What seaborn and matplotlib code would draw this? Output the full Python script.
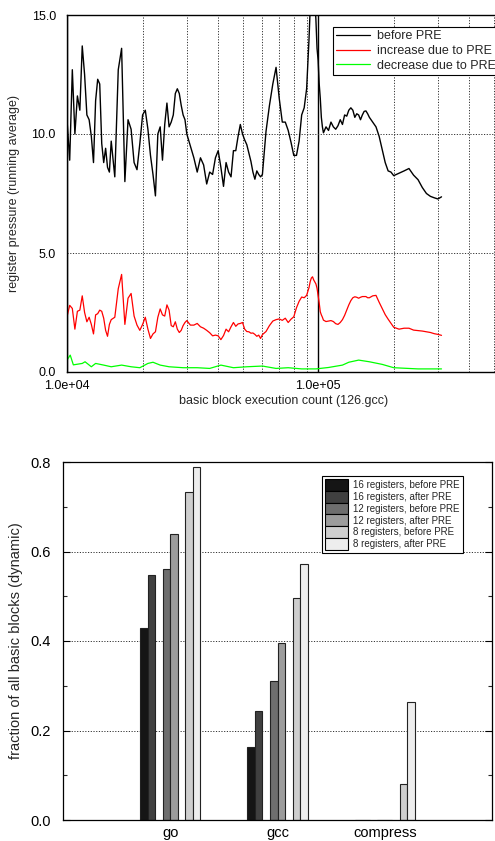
import numpy as np
import pandas as pd
import matplotlib
matplotlib.use("Agg")
import matplotlib.pyplot as plt
import matplotlib.ticker as mticker
from matplotlib.lines import Line2D
from matplotlib.patches import Patch
import seaborn as sns

# ---------------- dados do grafico de cima (126.gcc) ----------------
# contagem de execucao dos blocos basicos (eixo x, log)
contagem = [10000, 10250, 10500, 10750, 11000, 11250, 11500, 11750, 12000, 12250,
            12500, 12750, 13000, 13250, 13500, 13750, 14000, 14250, 14500, 14750,
            15000, 15500, 16000, 16500, 17000, 17500, 18000, 18500, 19000, 19500,
            20000, 20500, 21000, 21500, 22000, 22500, 23000, 23500, 24000, 24500,
            25000, 25500, 26000, 26500, 27000, 27500, 28000, 28500, 29000, 29500,
            30000, 31000, 32000, 33000, 34000, 35000, 36000, 37000, 38000, 39000,
            40000, 41000, 42000, 43000, 44000, 45000, 46000, 47000, 48000, 49000,
            50000, 51000, 52000, 53000, 54000, 55000, 56000, 57000, 58000, 59000,
            60000, 62000, 64000, 66000, 68000, 70000, 72000, 74000, 76000, 78000,
            80000, 82000, 84000, 86000, 88000, 90000, 92000, 93000, 94000, 95000,
            96000, 97000, 98000, 99000, 100000, 101000, 102000, 103000, 104000, 105000,
            107500, 110000, 112500, 115000, 117500, 120000, 122500, 125000, 127500, 130000,
            132500, 135000, 137500, 140000, 142500, 145000, 147500, 150000, 152500, 155000,
            157500, 160000, 165000, 170000, 175000, 180000, 185000, 190000, 195000, 200000,
            210000, 220000, 230000, 240000, 250000, 260000, 270000, 280000, 290000, 300000,
            310000]

antes_pre = [10.6, 8.9, 12.7, 10.0, 11.6, 11.0, 13.7, 12.5, 10.8, 10.6,
             9.9, 8.8, 11.4, 12.3, 12.1, 9.6, 8.8, 9.4, 8.6, 8.4,
             9.7, 8.2, 12.7, 13.6, 8.0, 10.6, 10.2, 8.8, 8.5, 9.6,
             10.8, 11.0, 10.2, 9.1, 8.3, 7.4, 10.0, 10.3, 8.9, 10.4,
             11.3, 10.3, 10.5, 10.8, 11.7, 11.9, 11.7, 11.2, 10.8, 10.6,
             10.0, 9.5, 9.0, 8.4, 9.0, 8.7, 7.9, 8.4, 8.3, 9.0,
             9.3, 8.6, 7.8, 8.8, 8.4, 8.2, 9.3, 9.3, 9.9, 10.4,
             10.0, 9.75, 9.55, 9.2, 8.85, 8.4, 8.1, 8.45, 8.3, 8.2,
             8.3, 10.1, 11.2, 12.1, 12.8, 11.5, 10.5, 10.5, 10.15, 9.65,
             9.1, 9.1, 9.7, 10.8, 11.1, 11.9, 14.0, 15.3, 15.8, 16.0,
             16.0, 15.6, 14.8, 13.6, 13.1, 12.1, 11.5, 10.7, 10.3, 10.05,
             10.3, 10.15, 10.5, 10.3, 10.2, 10.35, 10.6, 10.4, 10.8, 10.75,
             11.0, 11.1, 11.0, 10.7, 10.85, 10.8, 10.6, 10.8, 10.95, 10.97,
             10.85, 10.7, 10.5, 10.3, 9.9, 9.35, 8.8, 8.45, 8.4, 8.25,
             8.35, 8.45, 8.55, 8.27, 8.08, 7.75, 7.5, 7.38, 7.32, 7.27,
             7.36]

aumento_pre = [2.32, 2.8, 2.67, 1.8, 2.55, 2.6, 3.2, 2.5, 2.11, 2.3,
               2.0, 1.6, 2.4, 2.45, 2.6, 2.55, 2.26, 1.75, 1.5, 2.0,
               2.2, 2.3, 3.5, 4.1, 2.0, 3.1, 3.3, 2.35, 1.97, 1.75,
               2.0, 2.3, 1.8, 1.41, 1.6, 1.69, 2.3, 2.65, 2.4, 2.35,
               2.82, 2.6, 1.95, 1.9, 2.11, 1.8, 1.66, 1.75, 1.95, 2.08,
               2.16, 1.97, 1.97, 2.04, 1.9, 1.84, 1.75, 1.65, 1.52, 1.55,
               1.52, 1.36, 1.53, 1.8, 1.69, 1.9, 2.08, 1.92, 2.02, 2.04,
               2.08, 1.8, 1.7, 1.69, 1.63, 1.64, 1.58, 1.5, 1.55, 1.41,
               1.57, 1.7, 1.95, 2.14, 2.2, 2.23, 2.17, 2.26, 2.08, 2.22,
               2.32, 2.7, 2.97, 3.15, 3.12, 3.22, 3.55, 3.8, 3.95, 4.0,
               3.87, 3.78, 3.7, 3.52, 3.2, 2.9, 2.53, 2.4, 2.3, 2.18,
               2.12, 2.14, 2.16, 2.12, 2.03, 2.0, 2.08, 2.2, 2.38, 2.6,
               2.82, 3.0, 3.12, 3.16, 3.14, 3.1, 3.14, 3.17, 3.17, 3.17,
               3.12, 3.12, 3.2, 3.22, 2.93, 2.67, 2.41, 2.22, 2.05, 1.88,
               1.8, 1.84, 1.84, 1.76, 1.74, 1.72, 1.69, 1.66, 1.61, 1.58,
               1.54]

# curva verde tem menos pontos (quase plana)
contagem_verde = [10000, 10300, 10600, 11500, 11800, 12500, 13000, 14000, 15000, 16500,
                  18000, 19500, 21000, 22000, 23500, 25500, 29000, 33000, 37000, 41000,
                  46000, 52000, 60000, 68000, 76000, 86000, 98000, 110000, 125000, 132500,
                  145000, 160000, 180000, 200000, 250000, 310000]
reducao_pre = [0.5, 0.71, 0.3, 0.36, 0.43, 0.22, 0.36, 0.29, 0.22, 0.29,
               0.22, 0.18, 0.36, 0.41, 0.29, 0.22, 0.18, 0.18, 0.15, 0.29,
               0.18, 0.22, 0.25, 0.15, 0.18, 0.13, 0.13, 0.19, 0.29, 0.41,
               0.5, 0.43, 0.32, 0.18, 0.13, 0.13]

# ---------------- dados do grafico de barras ----------------
programas = ["go", "gcc", "compress"]
configs = ["16 registers, before PRE", "16 registers, after PRE",
           "12 registers, before PRE", "12 registers, after PRE",
           "8 registers, before PRE", "8 registers, after PRE"]
cores_barras = ["#151515", "#404040", "#6e6e6e", "#9c9c9c", "#cecece", "#ededed"]
fracao_go = [0.428, 0.547, 0.560, 0.638, 0.732, 0.788]
fracao_gcc = [0.163, 0.243, 0.311, 0.395, 0.497, 0.571]
fracao_compress = [0.0, 0.0, 0.0, 0.0, 0.080, 0.264]

# tabela longa para o seaborn
linhas = []
for prog, vals in zip(programas, [fracao_go, fracao_gcc, fracao_compress]):
    for cfg, v in zip(configs, vals):
        linhas.append({"programa": prog, "config": cfg, "fracao": v})
df_barras = pd.DataFrame(linhas)

# dois niveis vazios so para abrir o espaco entre os pares de barras
ordem_hue = [configs[0], configs[1], "_vazio1", configs[2], configs[3], "_vazio2", configs[4], configs[5]]
paleta = dict(zip(configs, cores_barras))
paleta["_vazio1"] = "white"
paleta["_vazio2"] = "white"

# ---------------- estilo ----------------
sns.set_theme(style="white")
plt.rcParams["font.family"] = ["Liberation Sans", "DejaVu Sans"]

fig = plt.figure(figsize=(4.95, 8.41), dpi=100)

pontilhado = dict(color="0.2", linewidth=0.7, linestyle=(0, (1.2, 1.6)))

# ================= grafico de cima =================
ax1 = fig.add_axes([67 / 495, (841 - 372) / 841, 433 / 495, 357 / 841])
sns.lineplot(x=contagem, y=antes_pre, ax=ax1, color="black", linewidth=1.0, estimator=None, sort=False)
sns.lineplot(x=contagem, y=aumento_pre, ax=ax1, color="red", linewidth=0.9, estimator=None, sort=False)
sns.lineplot(x=contagem_verde, y=reducao_pre, ax=ax1, color="#00ff00", linewidth=0.9, estimator=None, sort=False)

ax1.set_xscale("log")
ax1.set_xlim(1e4, 5.3e5)
ax1.set_ylim(0, 15)
ax1.set_yticks([0, 5, 10, 15])
ax1.yaxis.set_major_formatter(mticker.FormatStrFormatter("%.1f"))
ax1.xaxis.set_major_locator(mticker.LogLocator(base=10))
ax1.xaxis.set_minor_locator(mticker.LogLocator(base=10, subs=range(2, 10)))
ax1.xaxis.set_major_formatter(mticker.FuncFormatter(lambda v, _: f"{v:.1e}"))
ax1.xaxis.set_minor_formatter(mticker.NullFormatter())
ax1.tick_params(which="both", length=0, labelsize=9, colors="black")
ax1.tick_params(axis="y", pad=8)
ax1.tick_params(axis="x", pad=6)

ax1.grid(which="minor", axis="x", **pontilhado)
ax1.grid(which="major", axis="x", color="black", linewidth=1.0, linestyle="-")
ax1.grid(which="major", axis="y", **pontilhado)
for s in ax1.spines.values():
    s.set_color("black")
    s.set_linewidth(1.0)

ax1.set_xlabel("basic block execution count (126.gcc)", fontsize=9, labelpad=2)
ax1.set_ylabel("register pressure (running average)", fontsize=9, labelpad=8)

leg1 = ax1.legend(handles=[Line2D([], [], color="black", lw=0.9),
                           Line2D([], [], color="red", lw=0.9),
                           Line2D([], [], color="#00ff00", lw=0.9)],
                  labels=["before PRE", "increase due to PRE", "decrease due to PRE"],
                  loc="upper left", bbox_to_anchor=(0.614, 0.966), fontsize=9,
                  handlelength=2.7, handletextpad=0.56, labelspacing=0.22,
                  borderpad=0.25, borderaxespad=0, fancybox=False,
                  edgecolor="black", framealpha=1)
leg1.get_frame().set_linewidth(0.8)

# ================= grafico de baixo =================
ax2 = fig.add_axes([63 / 495, 21 / 841, 429 / 495, 358 / 841])
sns.barplot(data=df_barras, x="programa", y="fracao", hue="config", order=programas,
            hue_order=ordem_hue, palette=paleta, width=0.56, dodge=True,
            errorbar=None, edgecolor="#222222", linewidth=0.8, legend=False, ax=ax2)

ax2.set_xlim(-1, 3)
ax2.set_ylim(0, 0.8)
ax2.set_yticks([0, 0.2, 0.4, 0.6, 0.8])
ax2.set_yticks([0.1, 0.3, 0.5, 0.7], minor=True)
ax2.yaxis.set_major_formatter(mticker.FormatStrFormatter("%.1f"))
ax2.tick_params(axis="y", which="major", direction="in", length=5, width=0.8, right=True, left=True, labelsize=10.5, pad=9, colors="black")
ax2.tick_params(axis="y", which="minor", direction="in", length=3, width=0.8, right=True, left=True)
ax2.tick_params(axis="x", length=0, labelsize=10.5, pad=4, colors="black")
ax2.set_axisbelow(True)
ax2.grid(which="major", axis="y", **pontilhado)
for s in ax2.spines.values():
    s.set_color("black")
    s.set_linewidth(0.9)

ax2.set_xlabel("")
ax2.set_ylabel("fraction of all basic blocks (dynamic)", fontsize=10.5, labelpad=5)

maos = [Patch(facecolor=c, edgecolor="black", linewidth=0.8) for c in cores_barras]
leg2 = ax2.legend(handles=maos, labels=configs, loc="upper left",
                  bbox_to_anchor=(0.604, 0.961), fontsize=7,
                  handlelength=2.4, handleheight=1.5, labelspacing=0,
                  handletextpad=0.5, borderpad=0.3, borderaxespad=0,
                  fancybox=False, edgecolor="black", framealpha=1)
leg2.get_frame().set_linewidth(0.8)

plt.savefig("out.png", dpi=100)
